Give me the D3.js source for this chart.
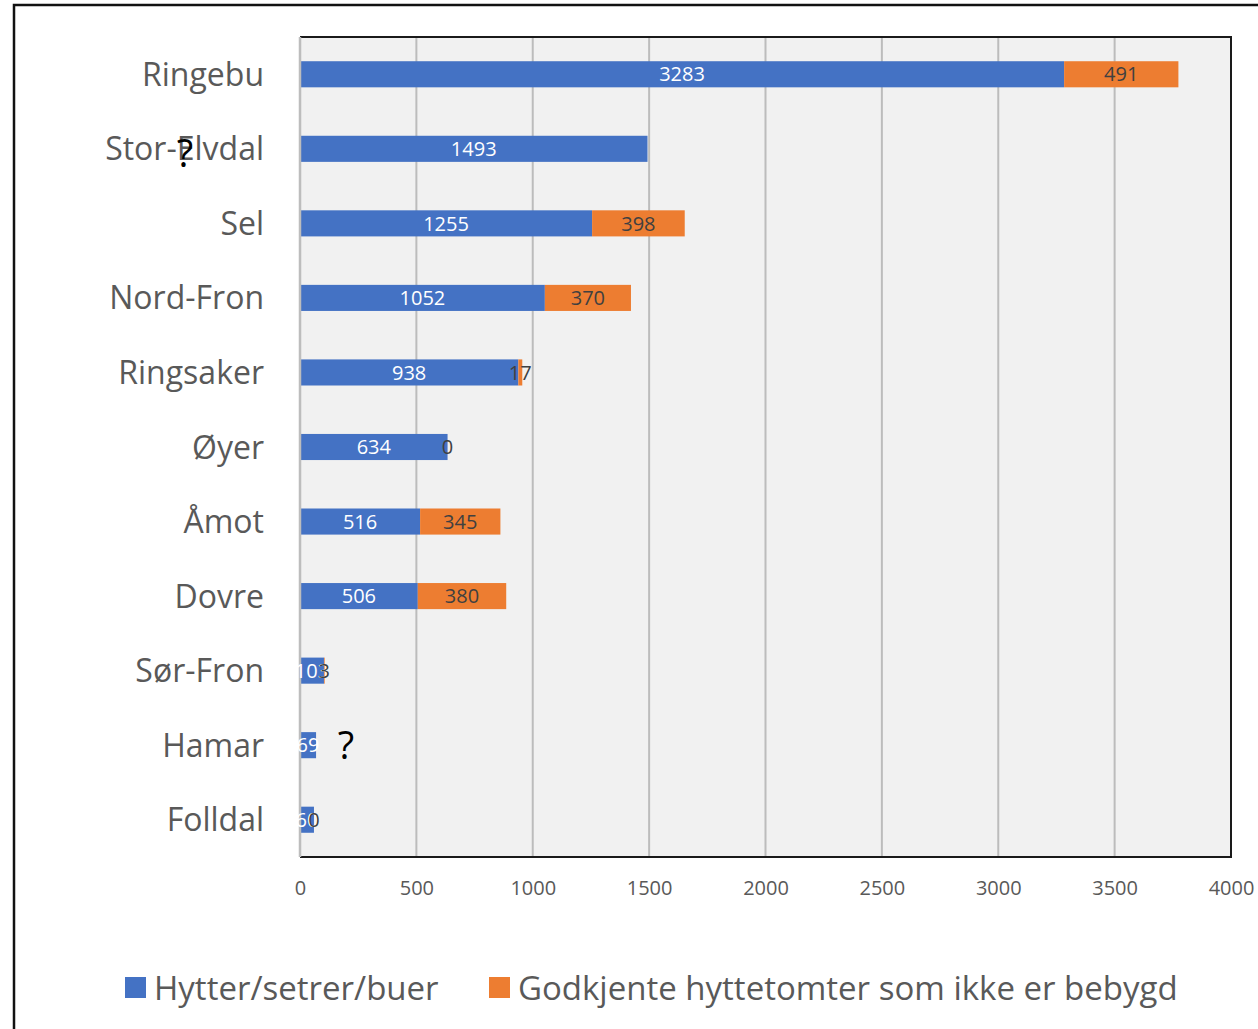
<!DOCTYPE html>
<html>
<head>
<meta charset="utf-8">
<script src="https://cdn.jsdelivr.net/npm/d3@7"></script>
<style>
  body { margin: 0; background: #fff; }
  svg { display: block; }
  text { font-family: "Open Sans", sans-serif; }
</style>
</head>
<body>
<div id="chart"></div>
<script>
// data
var kommuner = ['Ringebu', 'Stor-Elvdal', 'Sel', 'Nord-Fron', 'Ringsaker', 'Øyer', 'Åmot', 'Dovre', 'Sør-Fron', 'Hamar', 'Folldal']
var hytter = [3283, 1493, 1255, 1052, 938, 634, 516, 506, 103, 69, 60]
var tomter = [491, null, 398, 370, 17, 0, 345, 380, 3, null, 0]
var xTicks = [0, 500, 1000, 1500, 2000, 2500, 3000, 3500, 4000]
var serier = ['Hytter/setrer/buer', 'Godkjente hyttetomter som ikke er bebygd']

var W = 1258, H = 1029
var plot = {left: 300, right: 1231, top: 37, bottom: 857}
var blue = '#4472C4', orange = '#ED7D31'

var svg = d3.select('#chart').append('svg')
    .attr('width', W)
    .attr('height', H)

// ytre ramme
svg.append('rect')
    .attr('x', 14).attr('y', 5)
    .attr('width', W + 20).attr('height', H + 20)
    .attr('fill', '#fff')
    .attr('stroke', '#111')
    .attr('stroke-width', 2.5)

// plotområde
svg.append('rect')
    .attr('x', plot.left).attr('y', plot.top)
    .attr('width', plot.right - plot.left)
    .attr('height', plot.bottom - plot.top)
    .attr('fill', '#f1f1f1')

var x = d3.scaleLinear()
    .domain([0, 4000])
    .range([plot.left, plot.right])

var y = d3.scaleBand()
    .domain(kommuner)
    .range([plot.top, plot.bottom])
    .paddingInner(0.65)
    .paddingOuter(0.325)

// rutenett
svg.append('g')
    .selectAll('line')
    .data(xTicks.slice(1, -1))
    .enter()
    .append('line')
    .attr('x1', d => x(d)).attr('x2', d => x(d))
    .attr('y1', plot.top).attr('y2', plot.bottom)
    .attr('stroke', '#bcbcbc')
    .attr('stroke-width', 2)

// søyler
var rader = kommuner.map((k, i) => ({k: k, h: hytter[i], t: tomter[i]}))

svg.append('g')
    .selectAll('rect')
    .data(rader)
    .enter()
    .append('rect')
    .attr('x', x(0) + 1)
    .attr('y', d => y(d.k))
    .attr('width', d => x(d.h) - x(0) - 1)
    .attr('height', y.bandwidth())
    .attr('fill', blue)

svg.append('g')
    .selectAll('rect')
    .data(rader.filter(d => d.t))
    .enter()
    .append('rect')
    .attr('x', d => x(d.h))
    .attr('y', d => y(d.k))
    .attr('width', d => x(d.h + d.t) - x(d.h))
    .attr('height', y.bandwidth())
    .attr('fill', orange)

// ramme rundt plot (topp, høyre, bunn)
svg.append('path')
    .attr('d', 'M' + plot.left + ',' + plot.top + 'H' + plot.right + 'V' + plot.bottom + 'H' + plot.left)
    .attr('fill', 'none')
    .attr('stroke', '#1a1a1a')
    .attr('stroke-width', 2)

// y-akse linje
svg.append('line')
    .attr('x1', plot.left).attr('x2', plot.left)
    .attr('y1', plot.top).attr('y2', plot.bottom)
    .attr('stroke', '#bdbdbd')
    .attr('stroke-width', 2.5)

// dataetiketter
svg.append('g')
    .selectAll('text')
    .data(rader)
    .enter()
    .append('text')
    .attr('x', d => (x(0) + x(d.h)) / 2)
    .attr('y', d => y(d.k) + y.bandwidth() / 2)
    .attr('dy', '0.36em')
    .attr('text-anchor', 'middle')
    .attr('font-size', 20)
    .attr('fill', '#fff')
    .text(d => d.h)

svg.append('g')
    .selectAll('text')
    .data(rader.filter(d => d.t !== null))
    .enter()
    .append('text')
    .attr('x', d => (x(d.h) + x(d.h + d.t)) / 2)
    .attr('y', d => y(d.k) + y.bandwidth() / 2)
    .attr('dy', '0.36em')
    .attr('text-anchor', 'middle')
    .attr('font-size', 20)
    .attr('fill', '#404040')
    .text(d => d.t)

// kategorietiketter
svg.append('g')
    .selectAll('text')
    .data(kommuner)
    .enter()
    .append('text')
    .attr('x', 264)
    .attr('y', d => y(d) + y.bandwidth() / 2)
    .attr('dy', '0.36em')
    .attr('text-anchor', 'end')
    .attr('font-size', 32)
    .attr('fill', '#595959')
    .text(d => d)

// x-akse
var xaxis = d3.axisBottom(x).tickValues(xTicks).tickFormat(d3.format('d')).tickSize(0).tickPadding(0)
var ax = svg.append('g')
    .attr('transform', 'translate(0,' + 895 + ')')
    .call(xaxis)
ax.select('.domain').remove()
ax.selectAll('text')
    .attr('y', 0)
    .attr('dy', 0)
    .attr('font-size', 20)
    .attr('font-family', '"Open Sans", sans-serif')
    .attr('fill', '#595959')

// spørsmålstegn i originalen
var merker = [{k: 'Stor-Elvdal', px: 185, dy: 18}, {k: 'Hamar', px: 346, dy: 14}]
svg.append('g')
    .selectAll('text')
    .data(merker)
    .enter()
    .append('text')
    .attr('x', d => d.px)
    .attr('y', d => y(d.k) + y.bandwidth() / 2 + d.dy)
    .attr('text-anchor', 'middle')
    .attr('font-size', 38)
    .attr('fill', '#000')
    .text('?')

// tegnforklaring
var leg = svg.append('g').attr('transform', 'translate(0,988)')
var legX = [125, 489]
serier.forEach((s, i) => {
    leg.append('rect')
        .attr('x', legX[i]).attr('y', -11)
        .attr('width', 21).attr('height', 21)
        .attr('fill', i === 0 ? blue : orange)
    leg.append('text')
        .attr('x', legX[i] + 29)
        .attr('y', 0)
        .attr('dy', '0.36em')
        .attr('font-size', 33)
        .attr('fill', '#595959')
        .text(s)
})
</script>
</body>
</html>
